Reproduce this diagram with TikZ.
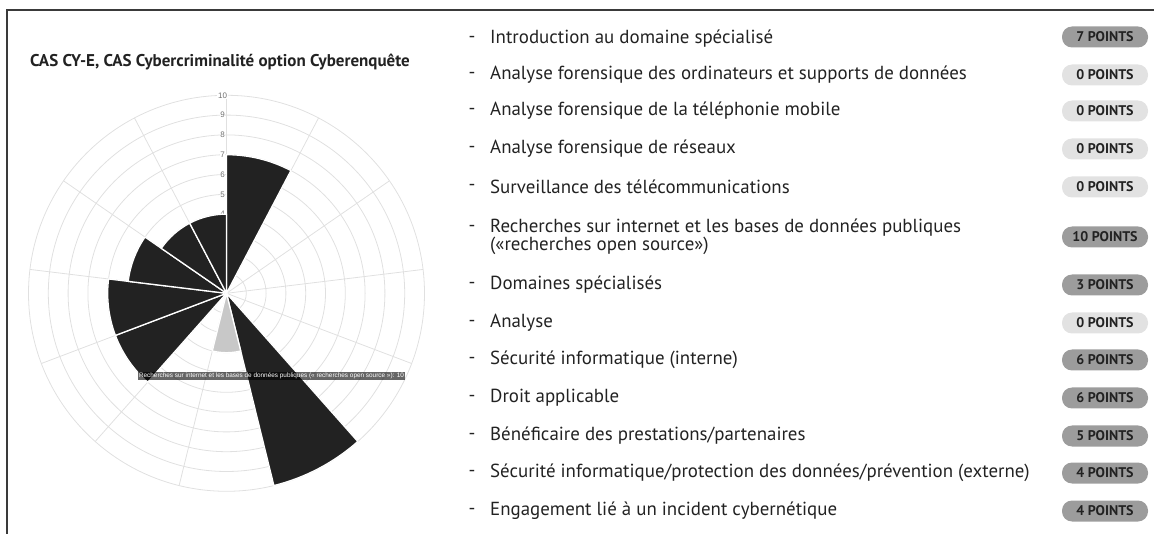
\documentclass[tikz,border=0pt]{standalone}
\usepackage{fontspec}
\setmainfont{PT Sans}
\newfontfamily\axisfont{Liberation Sans}
\definecolor{ink}{HTML}{222222}
\definecolor{rule}{HTML}{3A3A3A}
\definecolor{gridc}{HTML}{E0E0E0}
\definecolor{wedge}{HTML}{222222}
\definecolor{wedgehi}{HTML}{C8C8C8}
\definecolor{badgedk}{HTML}{9C9C9C}
\definecolor{badgelt}{HTML}{E2E2E2}
\definecolor{tickc}{HTML}{707070}
\begin{document}
\begin{tikzpicture}[x=1pt,y=1pt,
  gridline/.style={draw=gridc, line width=0.8pt},
  ticklabel/.style={font=\axisfont\fontsize{8}{8}\selectfont, text=tickc, fill=white, inner sep=0.6pt},
  wedgebox/.style={fill=wedge, draw=white, line width=1.3pt, line join=round},
  wedgehot/.style={fill=wedgehi, draw=white, line width=1.3pt, line join=round},
  tooltip/.style={fill=black, fill opacity=0.6, text opacity=1, text=white, inner xsep=1.5pt, inner ysep=1pt,
    font=\axisfont\fontsize{6.4}{6.4}\selectfont},
  charttitle/.style={anchor=west, inner sep=0, text=ink, font=\bfseries\fontsize{17}{19}\selectfont},
  itemtext/.style={anchor=west, inner sep=0, text=ink, font=\fontsize{18.9}{18.5}\selectfont, align=left},
  dashmark/.style={anchor=center, inner sep=0, text=ink, font=\fontsize{18.9}{18.5}\selectfont},
  badge/.style={rounded corners=10pt, minimum width=86pt, minimum height=21pt, inner sep=0, text=ink,
    font=\bfseries\fontsize{14}{14}\selectfont},
  badgedark/.style={badge, fill=badgedk},
  badgelight/.style={badge, fill=badgelt}]
\useasboundingbox (0,0) rectangle (1154,-534);

% frame rules
\draw[rule, line width=1.2pt] (7,-534) -- (7,-10) -- (1154,-10);

% title of the chart
\node[charttitle] (title) at (30,-62) {CAS CY-E, CAS Cybercriminalité option Cyberenquête};

% polar area chart
\coordinate (c) at (226.5,-293.3);
\def\unit{19.8}
\pgfmathsetmacro{\step}{360/13}
\foreach \k in {1,...,10}
  \draw[gridline] (c) circle[radius=\k*\unit];
\foreach \i in {0,...,12}
  \draw[gridline] (c) -- ++({90-\i*\step}:10*\unit);
\foreach \k in {4,...,10}
  \node[ticklabel] (tick\k) at ([shift={(-4,\k*\unit)}]c) {\k};

\foreach \v [count=\i from 0] in {7,0,0,0,0,10,3,0,6,6,5,4,4}{
  \ifnum\v>0
    \ifnum\i=6
      \filldraw[wedgehot] (c) -- ++({90-\i*\step}:\v*\unit)
        arc[start angle={90-\i*\step}, end angle={90-(\i+1)*\step}, radius=\v*\unit] -- cycle;
    \else
      \filldraw[wedgebox] (c) -- ++({90-\i*\step}:\v*\unit)
        arc[start angle={90-\i*\step}, end angle={90-(\i+1)*\step}, radius=\v*\unit] -- cycle;
    \fi
  \fi
}

\node[tooltip] (tip) at (271.5,-376) {Recherches sur internet et les bases de données publiques (« recherches open source »): 10};

% list of modules
\node[dashmark] (d1) at (472,-39) {-};
\node[itemtext] (i1) at (490,-39) {Introduction au domaine spécialisé};
\node[badgedark] (b1) at (1105,-37) {7 POINTS};

\node[dashmark] (d2) at (472,-75) {-};
\node[itemtext] (i2) at (490,-75) {Analyse forensique des ordinateurs et supports de données};
\node[badgelight] (b2) at (1105,-75) {0 POINTS};

\node[dashmark] (d3) at (472,-111) {-};
\node[itemtext] (i3) at (490,-111) {Analyse forensique de la téléphonie mobile};
\node[badgelight] (b3) at (1105,-111) {0 POINTS};

\node[dashmark] (d4) at (472,-149) {-};
\node[itemtext] (i4) at (490,-149) {Analyse forensique de réseaux};
\node[badgelight] (b4) at (1105,-149) {0 POINTS};

\node[dashmark] (d5) at (472,-187) {-};
\node[itemtext] (i5) at (490,-187) {Surveillance des télécommunications};
\node[badgelight] (b5) at (1105,-187) {0 POINTS};

\node[dashmark] (d6) at (472,-228) {-};
\node[itemtext] (i6) at (490,-237) {Recherches sur internet et les bases de données publiques\\(«recherches open source»)};
\node[badgedark] (b6) at (1105,-237) {10 POINTS};

\node[dashmark] (d7) at (472,-285) {-};
\node[itemtext] (i7) at (490,-285) {Domaines spécialisés};
\node[badgedark] (b7) at (1105,-285) {3 POINTS};

\node[dashmark] (d8) at (472,-323) {-};
\node[itemtext] (i8) at (490,-323) {Analyse};
\node[badgelight] (b8) at (1105,-323) {0 POINTS};

\node[dashmark] (d9) at (472,-360) {-};
\node[itemtext] (i9) at (490,-360) {Sécurité informatique (interne)};
\node[badgedark] (b9) at (1105,-360) {6 POINTS};

\node[dashmark] (d10) at (472,-398) {-};
\node[itemtext] (i10) at (490,-398) {Droit applicable};
\node[badgedark] (b10) at (1105,-398) {6 POINTS};

\node[dashmark] (d11) at (472,-436) {-};
\node[itemtext] (i11) at (490,-436) {Bénéficaire des prestations/partenaires};
\node[badgedark] (b11) at (1105,-436) {5 POINTS};

\node[dashmark] (d12) at (472,-473) {-};
\node[itemtext] (i12) at (490,-473) {Sécurité informatique/protection des données/prévention (externe)};
\node[badgedark] (b12) at (1105,-473) {4 POINTS};

\node[dashmark] (d13) at (472,-511) {-};
\node[itemtext] (i13) at (490,-511) {Engagement lié à un incident cybernétique};
\node[badgedark] (b13) at (1105,-511) {4 POINTS};
\end{tikzpicture}
\end{document}
